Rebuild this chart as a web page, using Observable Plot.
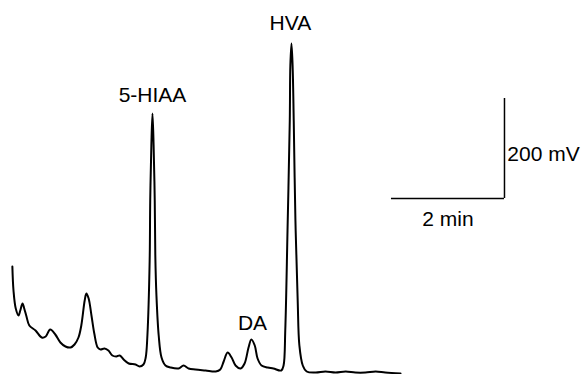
<!DOCTYPE html>
<html>
<head>
<meta charset="utf-8">
<script src="https://cdn.jsdelivr.net/npm/d3@7"></script>
<script src="https://cdn.jsdelivr.net/npm/@observablehq/plot@0.6"></script>
<style>
  html, body { margin: 0; padding: 0; background: #fff; }
  #chart svg { display: block; }
</style>
</head>
<body>
<div id="chart"></div>
<script>
// Retention time (min) and detector signal (mV)
const time = [0.21,0.23,0.27,0.32,0.35,0.39,0.42,0.46,0.51,0.62,0.73,0.80,0.88,0.97,1.06,1.15,1.24,1.31,1.38,1.43,1.49,1.52,1.56,1.61,1.66,1.72,1.77,1.84,1.91,1.98,2.05,2.11,2.18,2.27,2.39,2.46,2.53,2.57,2.60,2.64,2.65,2.67,2.69,2.71,2.73,2.74,2.76,2.80,2.85,2.92,3.01,3.15,3.24,3.33,3.45,3.63,3.81,3.89,3.95,4.02,4.09,4.16,4.25,4.32,4.39,4.44,4.50,4.55,4.62,4.73,4.83,4.97,5.01,5.04,5.08,5.12,5.13,5.15,5.17,5.19,5.22,5.26,5.29,5.35,5.42,5.58,5.75,5.93,6.11,6.28,6.46,6.64,6.81,7.08];
const signal = [212,164,128,114,124,138,128,112,94,84,70,72,86,76,60,52,50,56,70,94,144,158,148,114,78,50,46,48,44,34,32,34,26,18,16,12,16,30,74,224,344,454,518,454,344,234,154,74,30,14,10,8,14,8,6,4,2,6,22,40,30,14,8,18,50,66,54,28,14,10,8,4,14,84,284,504,614,658,614,504,304,144,54,14,2,0,2,0,2,0,0,2,0,-2];

// Peak labels
const peakNames = ["5-HIAA", "DA", "HVA"];
const peakTimes = [2.69, 4.46, 5.13];
const peakLabelSignal = [554, 98, 698];

// Scale bar: 2 min by 200 mV
const barTimeStart = 6.92, barTimeEnd = 8.92;
const barSignalStart = 348, barSignalEnd = 548;
const barLabels = ["2 min", "200 mV"];

const trace = time.map((t, i) => ({t, v: signal[i]}));
const peaks = peakNames.map((name, i) => ({name, t: peakTimes[i], v: peakLabelSignal[i]}));

const fontFamily = "'Liberation Sans', Arial, Helvetica, sans-serif";

const chart = Plot.plot({
  width: 585,
  height: 374,
  marginTop: 0, marginRight: 0, marginBottom: 0, marginLeft: 0,
  x: {domain: [0, 585 / 56.5], axis: null},
  y: {domain: [-4, 744], axis: null},
  style: {fontFamily, background: "#fff"},
  marks: [
    Plot.line(trace, {x: "t", y: "v", stroke: "#000", strokeWidth: 2, curve: "catmull-rom"}),
    Plot.text(peaks, {x: "t", y: "v", text: "name", fontSize: 21, fill: "#000", textAnchor: "middle", lineAnchor: "middle"}),
    Plot.ruleY([barSignalStart], {x1: barTimeStart, x2: barTimeEnd, stroke: "#000", strokeWidth: 1.5}),
    Plot.ruleX([barTimeEnd], {y1: barSignalStart, y2: barSignalEnd, stroke: "#000", strokeWidth: 1.5}),
    Plot.text([barLabels[0]], {x: (barTimeStart + barTimeEnd) / 2, y: barSignalStart - 42, text: d => d, fontSize: 21, fill: "#000", textAnchor: "middle", lineAnchor: "middle"}),
    Plot.text([barLabels[1]], {x: barTimeEnd + 0.05, y: (barSignalStart + barSignalEnd) / 2 - 12, text: d => d, fontSize: 21, fill: "#000", textAnchor: "start", lineAnchor: "middle"})
  ]
});
document.getElementById("chart").appendChild(chart);
</script>
</body>
</html>
